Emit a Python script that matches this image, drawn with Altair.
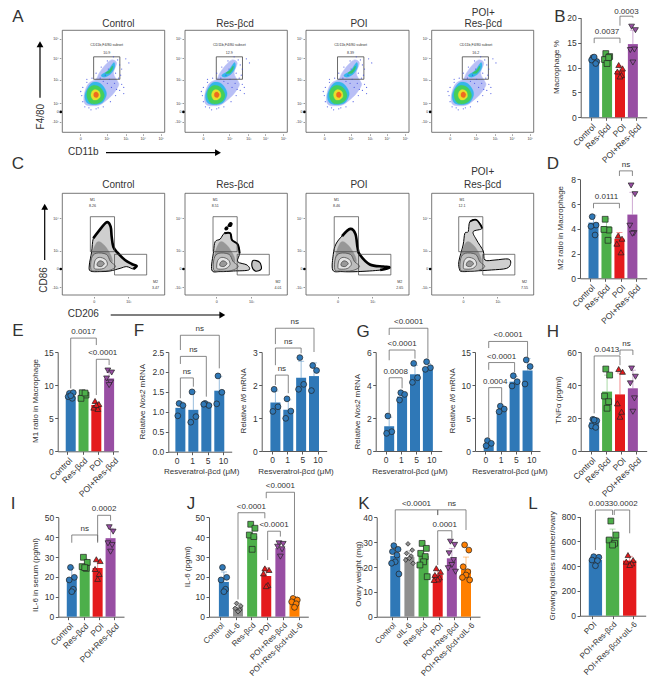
import altair as alt
import pandas as pd

FONT = "Liberation Sans"
INK = "#333333"
AXC = "#5a5a5a"
BLUE, GREEN, RED, PURPLE, GREY, ORANGE = "#2f78b7", "#4daf4a", "#e41a1c", "#984ea3", "#8f8f8f", "#ff7f00"

G4 = ["Control", "Res-βcd", "POI", "POI+Res-βcd"]
G6 = ["Control", "αIL-6", "Res-βcd", "POI", "POI+Res-βcd", "POI+Res-βcd+αIL-6"]
GL = ["POI", "POI+Res-βcd", "POI+Res-βcd+αIL-6"]
DOSES = ["0", "1", "5", "10"]

# ---- values --------------------------------------------------------------
B_bars = [11.5, 11.7, 9.3, 14.7]
B_sd = [0.6, 0.8, 1.0, 2.8]
B_pts = [[12, 11.2, 11.5, 10.8, 12.1], [12.8, 12.2, 11.6, 12, 10.8], [10.5, 9.8, 9.2, 8.5, 8.2], [18.2, 17.5, 13.5, 13.6, 11]]
D_bars = [4.5, 4.2, 3.2, 5.15]
D_sd = [0.6, 0.6, 0.5, 1.8]
D_pts = [[4.98, 4.3, 4.2, 3.5], [4.77, 3.9, 3.95, 3.07], [3.45, 3.2, 2.8, 2.1], [7.5, 6.8, 4.25, 3.65, 3.6]]
E_bars = [8.3, 8.4, 7.0, 11.0]
E_sd = [0.3, 0.4, 0.4, 0.9]
E_pts = [[8.76, 8.86, 8.25, 8.0, 8.4], [8.85, 8.5, 8.0, 8.8], [7.6, 7.15, 6.6, 6.4, 7.0], [12.2, 11.9, 11, 10.4, 10.0]]
F1_bars = [1.1, 1.05, 1.2, 1.53]
F1_sd = [0.15, 0.45, 0.05, 0.35]
F1_pts = [[1.21, 1.16, 0.9], [1.5, 0.88, 0.74], [1.21, 1.16, 1.19], [1.9, 1.49, 1.2]]
F2_bars = [1.47, 1.25, 2.22, 2.27]
F2_sd = [0.35, 0.3, 0.5, 0.4]
F2_pts = [[1.87, 1.34, 1.2], [1.58, 1.21, 0.99], [2.83, 2.02, 1.87], [2.59, 2.44, 1.83]]
G1_bars = [1.5, 3.3, 4.65, 5.05]
G1_sd = [0.55, 0.2, 0.55, 0.25]
G1_pts = [[2.12, 1.17, 1.07], [3.53, 3.43, 3.09], [5.31, 4.44, 4.16], [5.41, 5.05, 4.95]]
G2_bars = [1.0, 6.0, 10.5, 12.2]
G2_sd = [0.4, 0.45, 0.8, 1.8]
G2_pts = [[1.57, 1.16, 0.8], [6.8, 6.36, 5.96], [11.4, 10.5, 9.85], [13.8, 12.8, 10.15]]
H_bars = [17.5, 36, 34.3, 38]
H_sd = [2.5, 10, 13, 11]
H_pts = [[19.2, 18.4, 15.2, 14.3, 18.8], [49.7, 46, 33.3, 29.9, 25.9], [49.7, 48, 28.9, 23.8, 20.8], [50, 45, 41, 31.9, 23.8]]
I_bars = [19.5, 26, 24.5, 39.5]
I_sd = [5, 3, 4, 5]
I_pts = [[24.8, 19.8, 18.5, 13.8, 12.6], [29.9, 27.3, 25.2, 24.3, 24.7], [28.9, 28, 24, 21.5, 19], [45, 42.8, 36.9, 36, 32.7]]
J_bars = [17.5, 4.8, 40.5, 20.5, 34.5, 7.5]
J_sd = [5, 2, 5, 4, 3, 2.5]
J_pts = [[24.8, 19.8, 18.5, 13.8, 12.6], [6.7, 5.4, 4.2, 3.4, 2.5], [46.5, 44.5, 41.1, 40.3, 33.9], [24.3, 23.5, 21.8, 16, 15.4],
         [36.9, 36.6, 35.2, 33.9, 30.2], [9.2, 8.4, 7.5, 6.5, 4.7]]
K_bars = [24.5, 24, 24.5, 17, 23.5, 19]
K_sd = [3.5, 2.5, 4, 1.6, 4, 5]
K_pts = [[28.6, 27.1, 26.2, 24.8, 22.1, 21.5, 17.2], [29.3, 26.8, 25.5, 24.4, 23.5, 22.8, 21.5], [29.5, 27.5, 25.5, 24.2, 22.1, 20.8, 16.1],
         [19.5, 18.1, 16.8, 15.8, 15, 14.8], [30.2, 28.9, 25.5, 22.8, 20.8, 19.5, 18.1], [28.9, 26.8, 20.1, 18.1, 16.8, 15.8, 14.8]]
L_bars = [450, 630, 445]
L_sd = [30, 70, 35]
L_pts = [[477, 472, 450, 445, 404], [765, 652, 612, 585, 571], [490, 450, 437, 423, 410]]

JIT = [-0.1, 0.2, -0.2, 0.12, 0.0, -0.26, 0.26]
C4 = [BLUE, GREEN, RED, PURPLE]
S4 = ["circle", "square", "triangle-up", "triangle-down"]
BL = [BLUE] * 4
SC = ["circle"] * 4
C6 = [BLUE, GREY, GREEN, RED, PURPLE, ORANGE]
S6 = ["circle", "diamond", "square", "triangle-up", "triangle-down", "circle"]

# x0, x1, ybot, ytop, ymax, first centre, step, bar width, labels, ticks, fmt, bars, sd, points, colours, shapes, brackets
PANELS = [
 (580.7,646.7,117.3,17.7,20,590.7,15.2,10,G4,[0,5,10,15,20],"d",B_bars,B_sd,B_pts,C4,S4,
  [(0,2,15.9,14.9,14.9,"0.0037"),(2,3,20.3,18.4,20,"0.0003",None,0)]),
 (580,646.7,278.3,179.3,8,590,15.25,10,G4,[0,2,4,6,8],"d",D_bars,D_sd,D_pts,C4,S4,
  [(0,2,6.06,5.66,5.66,"0.0111"),(2,3,8.68,8.27,8.27,"ns")]),
 (57.7,118.3,451.3,352,15,67.3,15.33,10,G4,[0,5,10,15],"d",E_bars,E_sd,E_pts,C4,S4,
  [(0,2,17.1,9.5,16.05,"0.0017"),(2,3,13.9,8.5,13.03,"<0.0001")]),
 (168.3,231.7,451.7,352,2.5,176.7,15.4,10,DOSES,[0,0.5,1,1.5,2,2.5],".1f",F1_bars,F1_sd,F1_pts,BL,SC,
  [(0,1,1.85,1.34,1.63,"ns"),(0,2,2.39,2.2,1.38,"ns"),(0,3,2.92,2.55,2.09,"ns")]),
 (261.7,326.7,451,352,3,272,15.2,10,DOSES,[0,1,2,3],"d",F2_bars,F2_sd,F2_pts,BL,SC,
  [(0,1,2.3,2.0,1.75,"ns"),(0,2,3.12,2.6,2.96,"ns"),(0,3,3.72,3.24,3.0,"ns")]),
 (375.7,441.7,451,352,6,385.7,15.2,10,DOSES,[0,2,4,6],"d",G1_bars,G1_sd,G1_pts,BL,SC,
  [(0,1,4.44,2.18,3.8,"0.0008"),(0,2,6.12,5.5,5.6,"<0.0001"),(0,3,7.44,7.03,5.6,"<0.0001")]),
 (475,540,451,352,15,485.3,15.3,10,DOSES,[0,5,10,15],"d",G2_bars,G2_sd,G2_pts,BL,SC,
  [(0,1,9.6,1.9,7.3,"0.0004"),(0,2,13.4,12.3,11.9,"<0.0001"),(0,3,16.6,15.6,14.2,"<0.0001")]),
 (580.7,646.7,451,352,60,590.7,15.2,10,G4,[0,20,40,60],"d",H_bars,H_sd,H_pts,C4,S4,
  [(0,2,57.6,22.8,52,"0.0413"),(2,3,61.2,58.2,58.2,"ns")]),
 (58.3,124,616.7,517.3,50,68.3,15.25,10,G4,[0,10,20,30,40,50],"d",I_bars,I_sd,I_pts,C4,S4,
  [(0,2,41.1,37.2,37.2,"ns"),(2,3,51,37.8,48.3,"0.0002")]),
 (209,308.3,616.7,517.3,50,220,15.7,10,G6,[0,10,20,30,40,50],"d",J_bars,J_sd,J_pts,C6,S6,
  [(1,2.9,52.3,8.7,49.5,"<0.0001"),(3.1,4,43,28.5,40.3,"<0.0001"),(3,5,62.6,59.6,10.9,"<0.0001")]),
 (376.7,480,616.7,517.3,40,391.7,15.67,10,G6,[0,10,20,30,40],"d",K_bars,K_sd,K_pts,C6,S6,
  [(0,3,43,30.2,40.9,"<0.0001"),(3,5,43,40.9,34.9,"ns"),(3,4,34.6,20.8,31.5,"0.0001")]),
 (580,645.7,615.7,516.7,800,592.3,20.2,13.3,GL,[0,200,400,600,800],"d",L_bars,L_sd,L_pts,C4,S4,
  [(0,1,854,531,814,"0.0033",0.33),(1.1,2,854,814,666,"0.0002",1.75)]),
]

def bar_panel(p):
    x0,x1,yb,yt,ymax,c0,step,bw,labels,ticks,fmt,bars,sd,pts,cols,shapes,brk = p
    sx = alt.Scale(domain=[(x0-c0)/step,(x1-c0)/step], range=[x0-8,x1-8], nice=False, zero=False)
    sy = alt.Scale(domain=[0,ymax], range=[yb-8,yt-8], nice=False, zero=False)
    n = len(labels)
    angle = 0 if labels is DOSES else -45
    lfs = 8 if (labels is G6 or labels is GL) else 8.5
    expr = "[" + ",".join("'%s'" % s for s in labels) + "][datum.value]"
    ax = alt.Axis(orient="bottom", offset=-(670-(yb-8)), values=list(range(n)), labelExpr=expr, labelAngle=angle,
                  title=None, grid=False, labelFont=FONT, labelFontSize=lfs, labelColor=INK, domainColor=AXC, tickColor=AXC,
                  tickSize=3, labelPadding=1.5, labelOverlap=False, labelBound=False, labelFlush=False)
    ay = alt.Axis(orient="left", offset=-(x0-8), values=ticks, format=fmt, title=None, grid=False, labelFont=FONT,
                  labelFontSize=8.5, labelColor=INK, domainColor=AXC, tickColor=AXC, tickSize=3, labelPadding=1.5)
    d = pd.DataFrame({"x":list(range(n)),"v":bars,"z":[0]*n,"top":[a+b for a,b in zip(bars,sd)],"c":cols[:n]})
    layers = [
        alt.Chart(d).mark_rule(strokeWidth=0.9, opacity=0.55).encode(
            x=alt.X("x:Q",scale=sx,axis=None), y=alt.Y("v:Q",scale=sy,axis=None), y2="top:Q",
            color=alt.Color("c:N",scale=None)),
        alt.Chart(d).mark_tick(orient="horizontal",size=6,thickness=0.8,opacity=0.55).encode(
            x=alt.X("x:Q",scale=sx,axis=None), y=alt.Y("top:Q",scale=sy,axis=None),
            color=alt.Color("c:N",scale=None)),
        alt.Chart(d).mark_bar(size=bw, orient="vertical").encode(
            x=alt.X("x:Q",scale=sx,axis=None), y=alt.Y("v:Q",scale=sy,axis=None), y2="z:Q",
            color=alt.Color("c:N",scale=None)),
    ]
    for i,vals in enumerate(pts):
        dp = pd.DataFrame({"x":[i+JIT[j%len(JIT)] for j in range(len(vals))],"v":vals})
        dsize = 22 if shapes[i]=="diamond" else 34
        layers.append(alt.Chart(dp).mark_point(filled=True, shape=shapes[i], size=dsize, fill=cols[i], stroke="#222222",
                      strokeWidth=0.7, opacity=1).encode(
            x=alt.X("x:Q",scale=sx,axis=None), y=alt.Y("v:Q",scale=sy,axis=None)))
    rows, trows = [], []
    for k,b_ in enumerate(brk):
        a,b,top,l,r,t = b_[:6]
        tx = b_[6] if len(b_)>6 and b_[6] is not None else (a+b)/2
        dy = b_[7] if len(b_)>7 else -2
        for o,(xx,yy) in enumerate([(a,l),(a,top),(b,top),(b,r)]):
            rows.append({"id":k,"o":o,"x":xx,"y":yy})
        trows.append({"x":tx,"y":top,"t":t,"dy":dy})
    layers.append(alt.Chart(pd.DataFrame(rows)).mark_line(color="#6a6a6a",strokeWidth=0.8).encode(
        x=alt.X("x:Q",scale=sx,axis=None), y=alt.Y("y:Q",scale=sy,axis=None), detail="id:N", order="o:Q"))
    for dyv in sorted(set(r["dy"] for r in trows)):
        layers.append(alt.Chart(pd.DataFrame([r for r in trows if r["dy"]==dyv])).mark_text(
            font=FONT,fontSize=8,color=INK,baseline="bottom",dy=dyv).encode(
            x=alt.X("x:Q",scale=sx,axis=None), y=alt.Y("y:Q",scale=sy,axis=None), text="t:N"))
    axis_unit = alt.Chart(d.iloc[:1]).mark_point(opacity=0).encode(
        x=alt.X("x:Q",scale=sx,axis=ax), y=alt.Y("v:Q",scale=sy,axis=ay))
    return [alt.layer(*layers), axis_unit]

# ---- flow cytometry panels (panel units 0-100) ----------------------------
CLOUD_BLUE = [(21,33),(23,27),(30,26),(37,27),(45,33),(50,38),(55,46),(54,50),(50,58),(53,68),(48,71),(42,66),(36,58),(33,52),(27,49),(23,43)]
CLOUD_CYAN = [(22,36),(24,29),(31,27),(39,29),(43,36),(42,42),(37,48),(30,49),(25,44)]
CLOUD_GREEN = [(24,35),(27,29),(33,28),(39,31),(41,37),(37,44),(30,46),(25,42)]
CLOUD_YELLOW = [(28,36),(30,32),(34,32),(37,35),(36,40),(32,42),(29,40)]
CLOUD_RED = [(31,35),(34,34),(35.5,37),(33.5,39.5),(31,38.5)]
ARM_CYAN = [(38,56),(44,60),(49,67),(51,68),(51,63),(47,57),(41,54)]
ARM_GREEN = [(42,58),(46,61),(49,65),(49,62),(46,58)]
SPECKLE = [(19,36),(20,30),(22,25),(26,24),(33,23),(40,25),(47,30),(52,36),(56,41),(58,47),(55,53),(52,58),(56,66),(54,71),(50,74),
           (44,70),(38,64),(33,58),(29,53),(24,49),(20,44),(18,40),(60,44),(48,44),(53,42),(44,48),(46,52),(40,50),(37,53),(62,72),
           (65,68),(58,62),(45,62),(60,38),(35,24),(28,22),(24,52),(42,56),(51,48),(57,56)]
A_TITLE = ["10.9", "12.9", "8.39", "16.2"]
A_SHIFT = [(0,0),(-2,0),(-1.2,0),(-2,0)]
M1_VAL = ["8.26", "8.51", "8.46", "12.1"]
M2_VAL = ["3.47", "4.01", "2.65", "7.55"]

C_OUTER = [
 [(27.4,23.6),(26.4,29.5),(28.7,42.6),(30.3,55.7),(35.2,62.3),(43.3,71.5),(47.2,67.2),(48.2,57.4),(49.8,47.5),(53.7,41.9),(61.2,34.4),(67.8,30.5),(72.6,28.5),(69.4,25.6),(62.9,27.9),(56.4,26.2),(46.6,23.6),(36.8,23)],
 [(26.2,24.6),(27.9,42.6),(29.5,52.5),(34.4,55),(38.4,60.7),(44.3,60.7),(45.9,54.1),(51.5,49.8),(53.4,40.9),(51.5,32.8),(60.6,29.5),(62.3,24.6),(47.5,23.6),(34.4,23)],
 [(26,24.5),(26.5,40),(29,50),(35,58),(43,65),(48,60),(50,47),(52,40),(62,30),(75,28),(81,27),(72,24.5),(50,23),(35,23)],
 [(27.5,24.6),(26.6,32.8),(30.8,49.2),(32.5,60.7),(35.8,62.3),(37.4,72.1),(44,73.8),(49.5,65.6),(40.7,62.3),(44,54.1),(50.5,43.3),(52.2,34.4),(62,34.4),(75,35.4),(77.4,31.1),(73.5,26.2),(58.5,24.6),(41.8,23.6),(30.4,23)],
]
# the thick black stretches of each outermost contour
C_EDGE = [
 ([(30.3,55.7),(35.2,62.3),(43.3,71.5),(47.2,67.2),(48.2,57.4),(49.8,47.5),(53.7,41.9),(61.2,34.4),(67.8,30.5),(72.6,28.5),(69.4,25.6)],2.6),
 ([(38.4,60.7),(44.3,60.7),(45.9,54.1),(51.5,49.8),(53.4,40.9)],2.0),
 ([(35,58),(43,65),(48,60),(50,47),(52,40),(62,30),(75,28),(81,27),(72,24.5)],2.6),
 ([(37.4,72.1),(44,73.8),(49.5,65.6)],1.6),
]
C_EXTRA = [[], [[(42,68),(44,71),(46,70.5),(45,67.5)],[(39,65.5),(41,67),(42,65.5),(40,64)],[(66.5,34),(65.5,28),(69,23.5),(74.5,25.5),(73,32)]], [], []]
C_MID = [(29,25),(29,40),(34,52),(40,50),(46,42),(49,33),(44,26),(34,24)]
RING1 = [(28,25),(28.5,36),(33,41),(43,40),(47,33),(52,28),(45,24),(33,23.5)]
RING2 = [(31,27),(32,34),(36,37),(42,35),(44,30),(40,26),(33,25.5)]
RING3 = [(34,29),(35,32.5),(38,33.5),(41,31),(38,28)]
AX_A = ([17.6,43.3,61.9,78.5,96.1],["0","10²","10³","10⁴","10⁵"],[10.5,20,28.4,51.3,72.5,91.5],["-10²","0","10²","10³","10⁴","10⁵"])
AX_C = ([30.6,64.5],["0","10³"],[7.5,25.6,43.6,75.4],["-10³","0","10³","10⁴"])

FX = [(62.3,164.7),(185,287.3),(306,409),(431.7,533.7)]
FY_A = (132.3,30.3)
FY_C = (295,193.3)

def flow_panel(xr, yr, axs, polys, dots, texts):
    sx = alt.Scale(domain=[0,100], range=[xr[0]-8,xr[1]-8], nice=False, zero=False)
    sy = alt.Scale(domain=[0,100], range=[yr[0]-8,yr[1]-8], nice=False, zero=False)
    xv,xl,yv,yl = axs
    def ex(vals,labs):
        return "[" + ",".join("'%s'"%s for s in labs) + "][indexof([" + ",".join(str(v) for v in vals) + "],datum.value)]"
    common = dict(title=None,grid=False,labelFont=FONT,labelFontSize=3.6,labelColor=INK,domain=False,tickColor="#333333",tickSize=1.5,
                  tickWidth=0.5,labelPadding=1,labelOverlap=False)
    ax = alt.Axis(orient="bottom",offset=-(670-(yr[0]-8))+1.5,values=xv,labelExpr=ex(xv,xl),**common)
    ay = alt.Axis(orient="left",offset=-(xr[0]-8)+1.5,values=yv,labelExpr=ex(yv,yl),**common)
    frame = [(0,0),(100,0),(100,100),(0,100)]
    layers = []
    def poly(pts, interp, **kw):
        df = pd.DataFrame({"x":[p[0] for p in pts],"y":[p[1] for p in pts],"o":list(range(len(pts)))})
        return alt.Chart(df).mark_line(interpolate=interp, **kw).encode(
            x=alt.X("x:Q",scale=sx,axis=None), y=alt.Y("y:Q",scale=sy,axis=None), order="o:Q")
    df = pd.DataFrame({"x":[p[0] for p in frame],"y":[p[1] for p in frame],"o":list(range(4))})
    layers.append(alt.Chart(df).mark_line(interpolate="linear-closed",stroke="#555555",strokeWidth=0.8).encode(
        x=alt.X("x:Q",scale=sx,axis=None), y=alt.Y("y:Q",scale=sy,axis=None), order="o:Q"))
    for pts,interp,kw in polys:
        layers.append(poly(pts,interp,**kw))
    if dots:
        dd = pd.DataFrame({"x":[p[0] for p in dots],"y":[p[1] for p in dots]})
        layers.append(alt.Chart(dd).mark_circle(size=1.6,color="#3a49e0",opacity=0.8).encode(
            x=alt.X("x:Q",scale=sx,axis=None), y=alt.Y("y:Q",scale=sy,axis=None)))
    dt = pd.DataFrame({"x":[t[0] for t in texts],"y":[t[1] for t in texts],"t":[t[2] for t in texts]})
    layers.append(alt.Chart(dt).mark_text(font=FONT,fontSize=3.6,color="#333333").encode(
        x=alt.X("x:Q",scale=sx,axis=None), y=alt.Y("y:Q",scale=sy,axis=None), text="t:N"))
    dk = pd.DataFrame({"x":[-1.5],"y":[20 if axs is AX_A else 25.6]})
    layers.append(alt.Chart(dk).mark_circle(size=7,color="#000000",opacity=1).encode(
        x=alt.X("x:Q",scale=sx,axis=None), y=alt.Y("y:Q",scale=sy,axis=None)))
    axis_unit = alt.Chart(df.iloc[:1]).mark_point(opacity=0).encode(
        x=alt.X("x:Q",scale=sx,axis=ax), y=alt.Y("y:Q",scale=sy,axis=ay))
    return [alt.layer(*layers), axis_unit]

charts = []
for i,xr in enumerate(FX):
    dx,dy = A_SHIFT[i]
    mv = lambda pts: [(a+dx,b+dy) for a,b in pts]
    polys = [
        (mv(CLOUD_BLUE),"cardinal-closed",dict(fill="#7f8cf0",stroke="#7f8cf0",strokeWidth=0.5,opacity=0.55)),
        (mv(ARM_CYAN),"cardinal-closed",dict(fill="#35b6ea",stroke="#35b6ea",strokeWidth=0.3)),
        (mv(ARM_GREEN),"cardinal-closed",dict(fill="#37c46a",stroke="#37c46a",strokeWidth=0.3)),
        (mv(CLOUD_CYAN),"cardinal-closed",dict(fill="#35b6ea",stroke="#35b6ea",strokeWidth=0.3)),
        (mv(CLOUD_GREEN),"cardinal-closed",dict(fill="#45cf5a",stroke="#45cf5a",strokeWidth=0.3)),
        (mv(CLOUD_YELLOW),"cardinal-closed",dict(fill="#e6e02c",stroke="#e6e02c",strokeWidth=0.3)),
        (mv(CLOUD_RED),"cardinal-closed",dict(fill="#ee6a1f",stroke="#ee6a1f",strokeWidth=0.3)),
    ]
    gl = 30.6 + (0 if i<3 else -0.6)
    polys.append(([(gl,52),(gl+25.6,52),(gl+25.6,74),(gl,74)],"linear-closed",dict(stroke="#444444",strokeWidth=0.8)))
    charts += flow_panel(xr,FY_A,AX_A,polys,mv(SPECKLE),[(43.3,85.3,"CD11b,F4/80 subset"),(43.3,78,A_TITLE[i])])

for i,xr in enumerate(FX):
    g = 27.4 - (0.9 if i==3 else 0)
    polys = [(C_OUTER[i],"cardinal-closed",dict(fill="#cfcfcf",stroke="#000000",strokeWidth=1.0)),
             (C_EDGE[i][0],"cardinal",dict(stroke="#000000",strokeWidth=C_EDGE[i][1]))]
    for e in C_EXTRA[i]:
        polys.append((e,"cardinal-closed",dict(fill="#000000" if len(e)<5 else "#c4c4c4",stroke="#000000",strokeWidth=1.1)))
    polys += [
        (C_MID,"cardinal-closed",dict(fill="#8a8a8a",stroke="#8a8a8a",strokeWidth=0.3,opacity=0.8)),
        (RING1,"cardinal-closed",dict(fill="#bdbdbd",stroke="#3c3c3c",strokeWidth=0.7)),
        (RING2,"cardinal-closed",dict(fill="#e4e4e4",stroke="#3c3c3c",strokeWidth=0.7)),
        (RING3,"cardinal-closed",dict(fill="#999999",stroke="#3c3c3c",strokeWidth=0.7)),
        ([(g,42.6),(g+23.6,42.6),(g+23.6,77),(g,77)],"linear-closed",dict(stroke="#444444",strokeWidth=0.7)),
        ([(g+23.6,19.7),(g+55,19.7),(g+55,40),(g+23.6,40)],"linear-closed",dict(stroke="#444444",strokeWidth=0.7)),
    ]
    charts += flow_panel(xr,FY_C,AX_C,polys,[],[(29.6,93.4,"M1"),(29.6,87.5,M1_VAL[i]),(91,13,"M2"),(91,7,M2_VAL[i])])

for p in PANELS:
    charts += bar_panel(p)

# ---- free text, in page pixels --------------------------------------------
LETTERS = [("A",18,16.5),("B",560,16.5),("C",18,164),("D",553,164),("E",18,331),("F",139,331),("G",363,332),("H",553,332),
           ("I",13,504),("J",191,504),("K",364,504),("L",533,504)]
HEADS = [("Control",118.3,23.5),("Res-βcd",235,23.5),("POI",359,23.5),("POI+",483.3,13),("Res-βcd",483.3,23.5),
         ("Control",118.3,184.5),("Res-βcd",235,184.5),("POI",359,184.5),("POI+",482.7,172),("Res-βcd",482.7,185),
         ("CD11b",83.3,152.3),("CD206",83.3,314.3)]
YHEADS = [("F4/80",40.7,116.7),("CD86",44.3,280)]
YT = [("Macrophage %",556.5,67),("M2 ratio in Macrophage",561,228),("M1 ratio in Macrophage",35.5,401),("TNFα (pg/ml)",559,400),
      ("IL-6 in serum (pg/ml)",36,575),("IL-6 (pg/ml)",187.7,566.7),("Ovary weight (mg)",359,574),("Growing follicles number/ovary",553.3,565.7)]
XT = [("Resveratrol-βcd (μM)",201.7,471.7),("Resveratrol-βcd (μM)",296,471.7),("Resveratrol-βcd (μM)",410,471.7),("Resveratrol-βcd (μM)",510,471.7)]

rows = []
for t,x,y in LETTERS: rows.append((t,x,y,17,0))
for t,x,y in HEADS: rows.append((t,x,y,10,0))
for t,x,y in YHEADS: rows.append((t,x,y,10,270))
for t,x,y in YT: rows.append((t,x,y,8,270))
for t,x,y in XT: rows.append((t,x,y,8,0))
tx = pd.DataFrame(rows,columns=["t","x","y","s","a"]); tx["x"]-=8; tx["y"]-=8
charts.append(alt.Chart(tx).mark_text(font=FONT,color=INK,baseline="middle").encode(
    x=alt.X("x:Q",scale=None), y=alt.Y("y:Q",scale=None), text="t:N",
    size=alt.Size("s:Q",scale=None,legend=None), angle=alt.Angle("a:Q",scale=None)))

# y titles with an italic gene name, built from three pieces
SEG = [("Relative","",0.0),("Nos2","i",31.1),("mRNA","",52.0)]
SEG2 = [("Relative","",0.0),("Il6","i",31.1),("mRNA","",41.8)]
for (cx,cy,seg,total) in [(142.7,401.7,SEG,75.5),(244.3,400.7,SEG2,65.4),(357.7,411.7,SEG,75.5),(453.3,400.7,SEG2,65.4)]:
    for t,st,off in seg:
        dfs = pd.DataFrame({"t":[t],"x":[cx-8],"y":[cy+total/2-off-8]})
        charts.append(alt.Chart(dfs).mark_text(font=FONT,fontSize=8,color=INK,angle=270,align="left",baseline="middle",
                      fontStyle="italic" if st else "normal").encode(
            x=alt.X("x:Q",scale=None), y=alt.Y("y:Q",scale=None), text="t:N"))

# arrows
SH = [(40,44.3,40,97.7,"triangle-up"),(44.7,206.7,44.7,260,"triangle-up"),(218,152.7,106,152.7,"triangle-right"),(222.3,315,110.7,315,"triangle-right")]
for hx,hy,tx_,ty_,sh in SH:
    dfa = pd.DataFrame({"x":[hx-8,tx_-8],"y":[hy-8,ty_-8],"o":[0,1]})
    charts.append(alt.Chart(dfa).mark_line(color="#000000",strokeWidth=1.2).encode(
        x=alt.X("x:Q",scale=None), y=alt.Y("y:Q",scale=None), order="o:Q"))
    charts.append(alt.Chart(dfa.iloc[:1]).mark_point(filled=True,shape=sh,size=46,color="#000000",opacity=1).encode(
        x=alt.X("x:Q",scale=None), y=alt.Y("y:Q",scale=None)))

chart = (alt.layer(*charts)
         .resolve_scale(x="independent",y="independent")
         .resolve_axis(x="independent",y="independent")
         .properties(width=653,height=670,padding=0,autosize=alt.AutoSizeParams(type="none"),background="white")
         .configure_view(stroke=None))
chart.save("out.html", embed_options={"renderer":"svg","actions":False})
